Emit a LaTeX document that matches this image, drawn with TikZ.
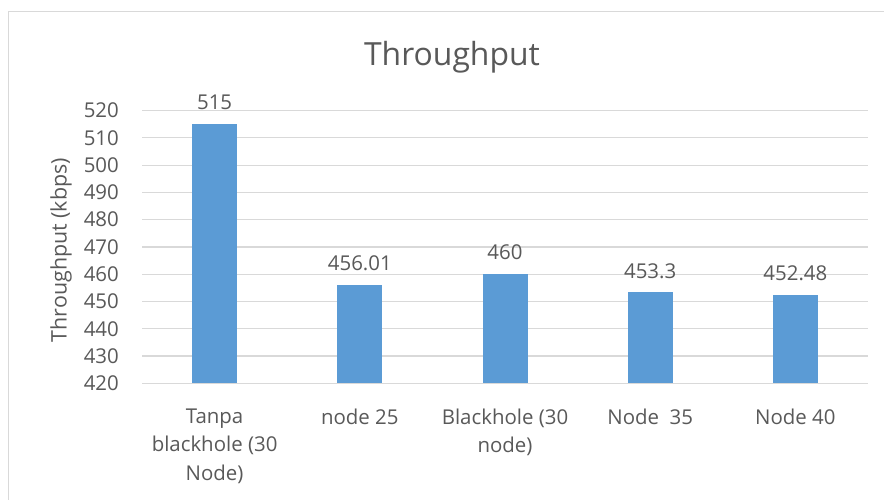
\documentclass[tikz,border=0pt]{standalone}
\usepackage{fontspec}
\setmainfont{Open Sans}
\definecolor{barblue}{HTML}{5B9BD5}
\definecolor{txtgray}{HTML}{595959}
\definecolor{gridgray}{HTML}{D9D9D9}
\tikzset{
  tick/.style={anchor=east, text=txtgray, font=\fontsize{20.5}{24}\selectfont, inner sep=0pt},
  catlbl/.style={anchor=north, text=txtgray, font=\fontsize{20.5}{28.7}\selectfont, align=center, inner sep=0pt},
  vallbl/.style={anchor=south, text=txtgray, font=\fontsize{20.5}{24}\selectfont, inner sep=0pt},
  bar/.style={fill=barblue, draw=none},
  grid/.style={draw=gridgray, line width=1.2bp},
}
\begin{document}
\begin{tikzpicture}[x=1bp, y=-1bp]
\useasboundingbox (0,0) rectangle (884,500);
\fill[white] (0,0) rectangle (884,500);
% chart border
\draw[gridgray, line width=1bp] (8,510) -- (8,12) -- (890,12);
% title
\node[text=txtgray, font=\fontsize{32}{36}\selectfont, inner sep=0pt] (title) at (452,57) {Throughput};
% axis title
\node[text=txtgray, font=\fontsize{21.5}{24}\selectfont, rotate=90, inner sep=0pt] (ytitle) at (61,250) {Throughput (kbps)};
% gridlines and ticks
\foreach \v [count=\i from 0] in {420,430,...,520} {
  \pgfmathsetmacro{\yy}{383.3 - \i*27.27}
  \draw[grid] (142,\yy) -- (868,\yy);
  \node[tick] (t\v) at (119,\yy) {\v};
}
% bars
\foreach \c/\val/\lab [count=\k] in {214.6/515/515, 359.8/456.01/456.01, 505/460/460, 650.2/453.3/453.3, 795.4/452.48/452.48} {
  \pgfmathsetmacro{\top}{383.3 - (\val-420)*2.727}
  \fill[bar] (\c-22.5,\top) rectangle (\c+22.5,383.3);
  \node[vallbl] (v\k) at (\c,\top-14) {\lab};
}
% category labels
\node[catlbl] (c1) at (214.6,408.5) {Tanpa\\blackhole (30\\Node)};
\node[catlbl] (c2) at (359.8,408.5) {node 25};
\node[catlbl] (c3) at (505,408.5) {Blackhole (30\\node)};
\node[catlbl] (c4) at (650.2,408.5) {Node\ \ 35};
\node[catlbl] (c5) at (795.4,408.5) {Node 40};
\end{tikzpicture}
\end{document}
